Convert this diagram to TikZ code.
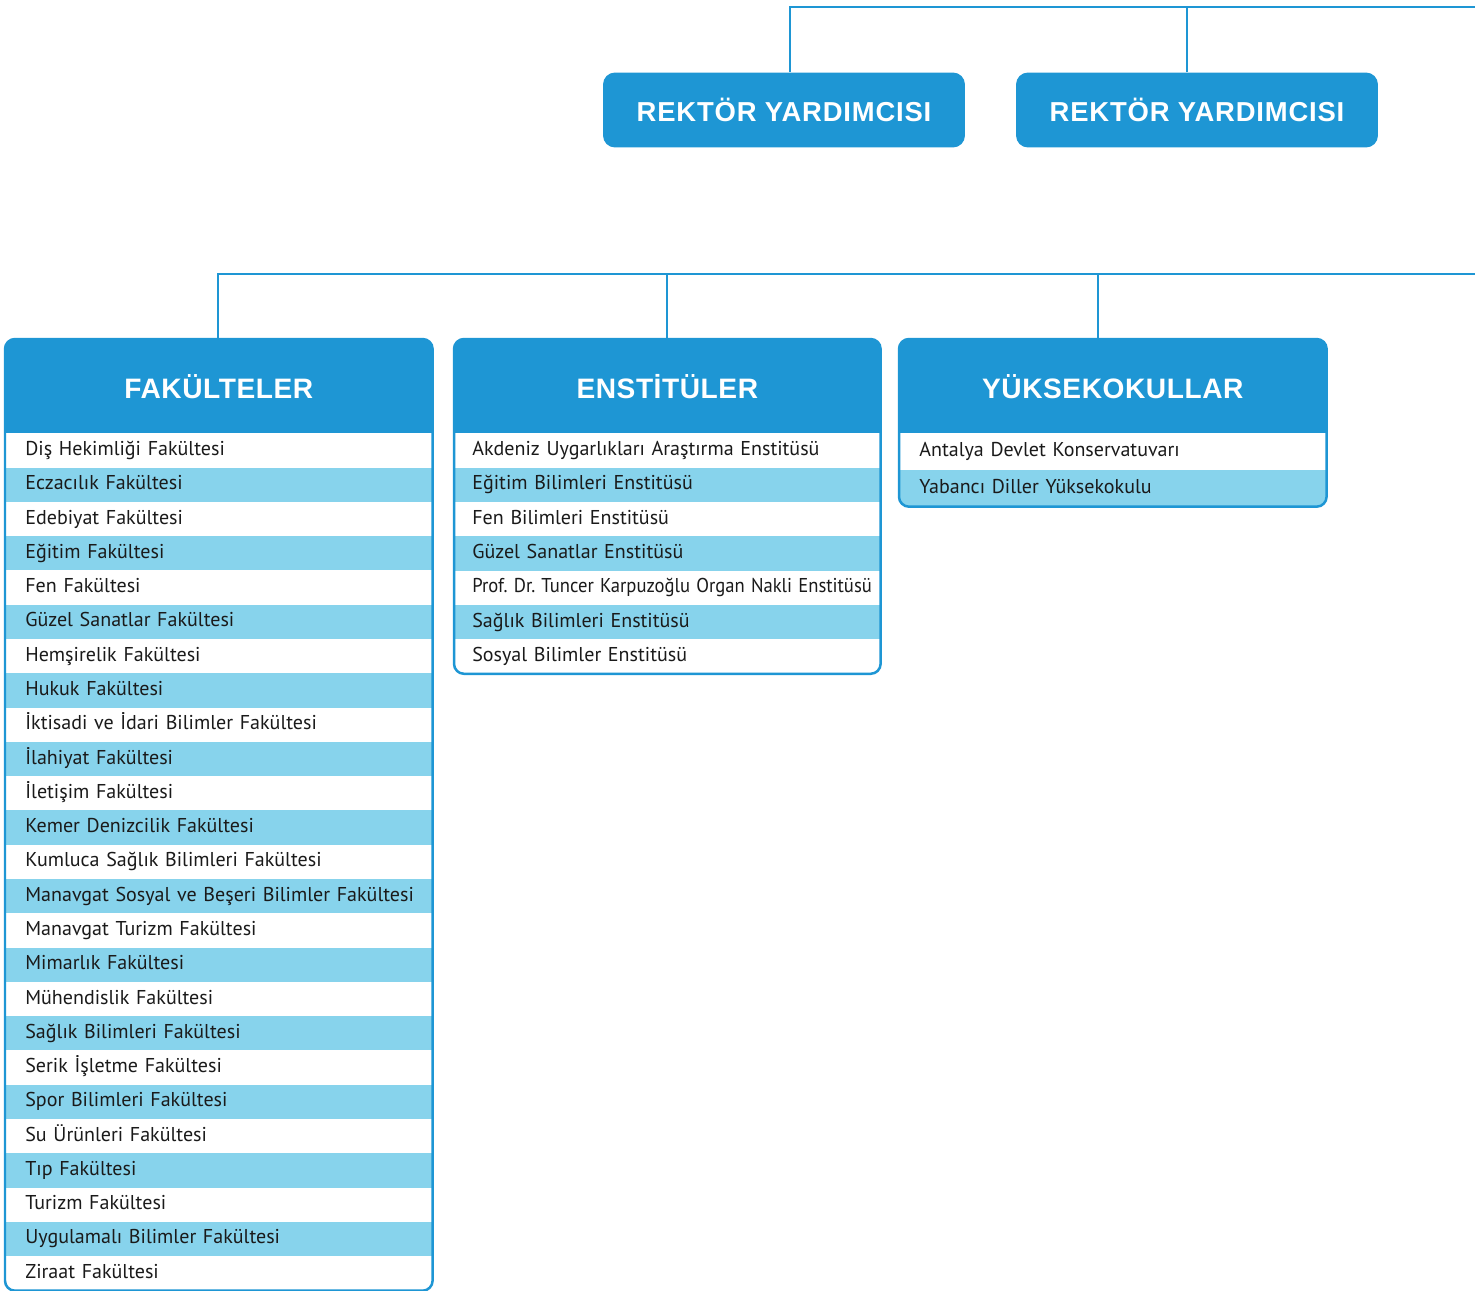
\documentclass[tikz,border=0pt]{standalone}
\usepackage{fontspec}
\usepackage{graphicx}
\setmainfont[WordSpace=0.85]{PT Sans}
\newfontfamily\headfont[LetterSpace=2]{Liberation Sans}
\newfontfamily\rektorfont[LetterSpace=3]{Liberation Sans}
\newcommand\narrowrow[1]{\scalebox{0.93}[1]{#1}}
\frenchspacing
\definecolor{orgblue}{HTML}{1E96D4}
\definecolor{rowblue}{HTML}{87D3EC}
\definecolor{rowtext}{HTML}{1A1A1A}
\tikzset{
  link/.style={orgblue, line width=0.05cm},
  rektor/.style={fill=orgblue, rounded corners=0.24cm, minimum width=7.24cm,
    minimum height=1.5cm, text=white,
    font=\rektorfont\bfseries\fontsize{15.6}{18}\selectfont},
  header/.style={fill=orgblue, anchor=north west, minimum height=1.88cm,
    inner sep=0pt, text=white,
    font=\headfont\bfseries\fontsize{16}{18}\selectfont},
  row/.style={anchor=north west, inner ysep=0pt, text height=1.6ex,
    text depth=0.45ex, align=left, text=rowtext,
    font=\fontsize{11.4}{14}\selectfont},
  oddrow/.style={row, fill=white},
  evenrow/.style={row, fill=rowblue},
  frame/.style={draw=orgblue, line width=0.05cm, rounded corners=0.2cm},
}
\begin{document}
\begin{tikzpicture}[x=0.02cm, y=-0.02cm]
  \useasboundingbox (0,0) rectangle (1475,1291);
  % rektor yardimcilari
  \node[rektor] (ry1) at (784,110) {REKTÖR YARDIMCISI};
  \node[rektor] (ry2) at (1197,110) {REKTÖR YARDIMCISI};
  \coordinate (topend) at (1475,7);
  \draw[link] (ry1.north) ++(6,0) |- (topend);
  \draw[link] (ry2.north) ++(-10,0) |- (topend);
  % connectors to the units
  \coordinate (midend) at (1475,274);
  \coordinate (fakx) at (218,339);
  \coordinate (enstx) at (667,339);
  \coordinate (yukx) at (1098,339);
  \draw[link] (fakx) |- (midend);
  \draw[link] (enstx) |- (midend);
  \draw[link] (yukx) |- (midend);
  % fakulteler
  \begin{scope}
    \clip[rounded corners=0.2cm] (5,339) rectangle (432,1290);
    \node[header, minimum width=8.54cm] (fak) at (5,339) {FAKÜLTELER};
    \foreach \name [count=\i] in {Diş Hekimliği Fakültesi, Eczacılık Fakültesi,
      Edebiyat Fakültesi, Eğitim Fakültesi, Fen Fakültesi,
      Güzel Sanatlar Fakültesi, Hemşirelik Fakültesi, Hukuk Fakültesi,
      İktisadi ve İdari Bilimler Fakültesi, İlahiyat Fakültesi,
      İletişim Fakültesi, Kemer Denizcilik Fakültesi,
      Kumluca Sağlık Bilimleri Fakültesi,
      Manavgat Sosyal ve Beşeri Bilimler Fakültesi,
      Manavgat Turizm Fakültesi, Mimarlık Fakültesi, Mühendislik Fakültesi,
      Sağlık Bilimleri Fakültesi, Serik İşletme Fakültesi,
      Spor Bilimleri Fakültesi, Su Ürünleri Fakültesi, Tıp Fakültesi,
      Turizm Fakültesi, Uygulamalı Bilimler Fakültesi, Ziraat Fakültesi} {
      \ifodd\i\def\rowstyle{oddrow}\else\def\rowstyle{evenrow}\fi
      \node[\rowstyle, inner xsep=0.4cm, text width=7.74cm, minimum height=0.6856cm]
        (fak-\i) at (5,{433+(\i-1)*34.28}) {\mbox{\name}};
    }
  \end{scope}
  \draw[frame] (fak.north west) rectangle (fak-25.south east);
  % enstituler
  \begin{scope}
    \clip[rounded corners=0.2cm] (454,339) rectangle (880,673);
    \node[header, minimum width=8.52cm] (enst) at (454,339) {ENSTİTÜLER};
    \foreach \name [count=\i] in {Akdeniz Uygarlıkları Araştırma Enstitüsü,
      Eğitim Bilimleri Enstitüsü, Fen Bilimleri Enstitüsü,
      Güzel Sanatlar Enstitüsü,
      \narrowrow{Prof. Dr. Tuncer Karpuzoğlu Organ Nakli Enstitüsü},
      Sağlık Bilimleri Enstitüsü, Sosyal Bilimler Enstitüsü} {
      \ifodd\i\def\rowstyle{oddrow}\else\def\rowstyle{evenrow}\fi
      \node[\rowstyle, inner xsep=0.36cm, text width=7.8cm, minimum height=0.686cm]
        (enst-\i) at (454,{433+(\i-1)*34.3}) {\mbox{\name}};
    }
  \end{scope}
  \draw[frame] (enst.north west) rectangle (enst-7.south east);
  % yuksekokullar
  \begin{scope}
    \clip[rounded corners=0.2cm] (899,339) rectangle (1326,506);
    \node[header, minimum width=8.54cm] (yuk) at (899,339) {YÜKSEKOKULLAR};
    \foreach \name [count=\i] in {Antalya Devlet Konservatuvarı,
      Yabancı Diller Yüksekokulu} {
      \ifodd\i\def\rowstyle{oddrow}\else\def\rowstyle{evenrow}\fi
      \node[\rowstyle, inner xsep=0.4cm, text width=7.74cm, minimum height=0.73cm]
        (yuk-\i) at (899,{433+(\i-1)*36.5}) {\mbox{\name}};
    }
  \end{scope}
  \draw[frame] (yuk.north west) rectangle (yuk-2.south east);
\end{tikzpicture}
\end{document}
